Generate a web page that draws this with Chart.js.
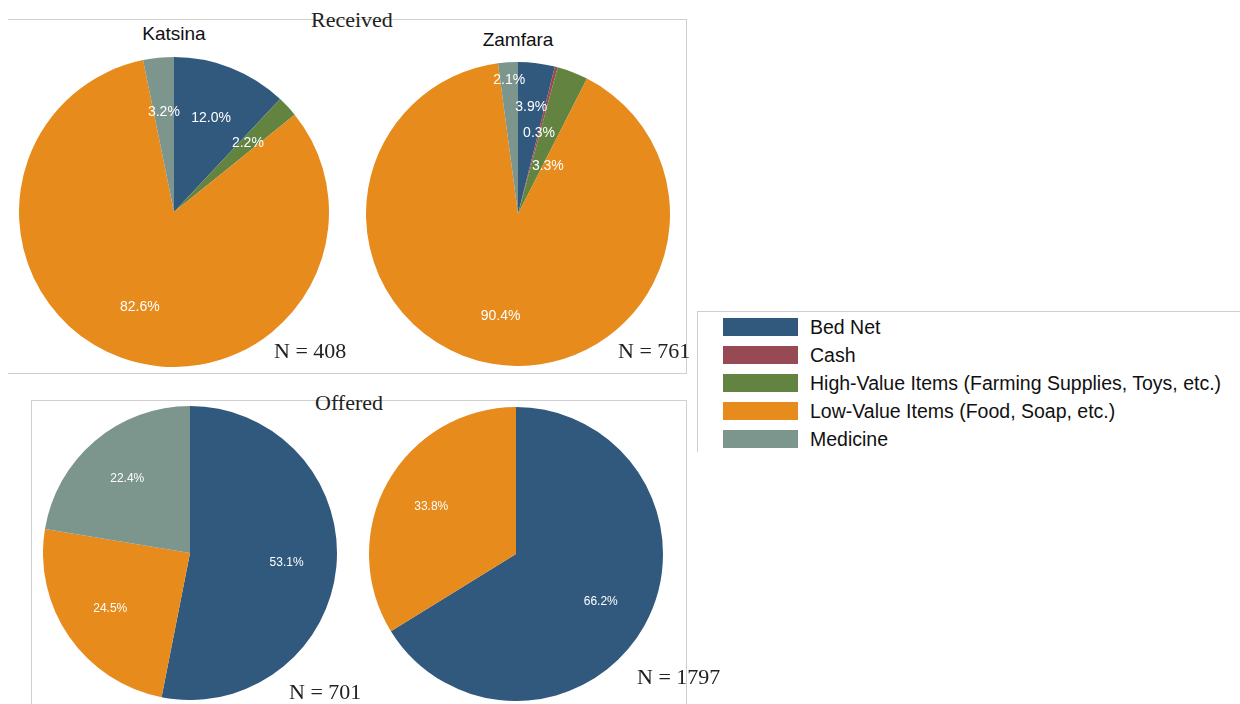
<!DOCTYPE html>
<html>
<head>
<meta charset="utf-8">
<script src="https://cdn.jsdelivr.net/npm/chart.js@4"></script>
<style>
  body { margin: 0; background: #fff; }
  #page { position: relative; width: 1240px; height: 704px; overflow: hidden; }
  .hl { position: absolute; height: 1px; background: #cfcfcf; }
  .vl { position: absolute; width: 1px; background: #cfcfcf; }
  .serif { position: absolute; font-family: "Liberation Serif", "DejaVu Serif", serif; font-size: 22px; color: #222; white-space: nowrap; line-height: 1; }
  .sub { position: absolute; font-family: "Liberation Sans", Arial, sans-serif; font-size: 19px; color: #111; white-space: nowrap; line-height: 1; transform: translateX(-50%); }
  canvas { position: absolute; }
  #legend { position: absolute; left: 723px; top: 313px; font-family: "Liberation Sans", Arial, sans-serif; font-size: 19.5px; color: #111; }
  .row { display: flex; align-items: center; height: 28px; white-space: nowrap; }
  .sw { width: 75px; height: 18px; margin-right: 12px; flex: none; }
</style>
</head>
<body>
<div id="page">
  <!-- frames -->
  <div class="hl" style="left:8px; top:19px; width:679px"></div>
  <div class="vl" style="left:686px; top:19px; height:354px"></div>
  <div class="hl" style="left:8px; top:373px; width:679px"></div>

  <div class="hl" style="left:31px; top:400px; width:656px"></div>
  <div class="vl" style="left:31px; top:400px; height:304px"></div>
  <div class="vl" style="left:686px; top:400px; height:304px"></div>

  <div class="hl" style="left:697px; top:311px; width:543px"></div>
  <div class="vl" style="left:697px; top:311px; height:141px"></div>

  <div class="serif" style="left:311px; top:9px">Received</div>
  <div class="serif" style="left:315px; top:392px">Offered</div>
  <div class="sub" style="left:174px; top:24px">Katsina</div>
  <div class="sub" style="left:518px; top:30px">Zamfara</div>

  <canvas id="recK" width="310" height="310" style="left:19px; top:57px"></canvas>
  <canvas id="recZ" width="304" height="304" style="left:366px; top:62px"></canvas>
  <canvas id="offK" width="294" height="294" style="left:43px; top:406px"></canvas>
  <canvas id="offZ" width="294" height="294" style="left:369px; top:407px"></canvas>

  <div class="serif" style="left:274px; top:340px">N = 408</div>
  <div class="serif" style="left:618px; top:340px">N = 761</div>
  <div class="serif" style="left:289px; top:681px">N = 701</div>
  <div class="serif" style="left:637px; top:666px">N = 1797</div>

  <div id="legend"></div>
</div>

<script>
// Gift categories and their shares (%)
const categories = ['Bed Net', 'Cash', 'High-Value Items (Farming Supplies, Toys, etc.)', 'Low-Value Items (Food, Soap, etc.)', 'Medicine'];
const colors = ['#31587D', '#984A54', '#638440', '#E68B1C', '#7C968E'];

const receivedKatsina = [12.0, 0, 2.2, 82.6, 3.2];
const receivedZamfara = [3.9, 0.3, 3.3, 90.4, 2.1];
const offeredKatsina = [53.1, 0, 0, 24.5, 22.4];
const offeredZamfara = [66.2, 0, 0, 33.8, 0];

// white percent labels placed along each slice's middle angle
const pctLabels = {
  id: 'pctLabels',
  afterDatasetsDraw(chart, args, opts) {
    const ctx = chart.ctx;
    const meta = chart.getDatasetMeta(0);
    const data = chart.data.datasets[0].data;
    ctx.save();
    ctx.fillStyle = '#fff';
    ctx.font = opts.size + 'px "Liberation Sans", Arial, sans-serif';
    ctx.textAlign = 'center';
    ctx.textBaseline = 'middle';
    meta.data.forEach((arc, i) => {
      if (!data[i]) return;
      const r = arc.outerRadius * (opts.radius[i] != null ? opts.radius[i] : opts.radius);
      const shift = (opts.shift && opts.shift[i]) || 0;
      const a = (arc.startAngle + arc.endAngle) / 2 + shift * Math.PI / 180;
      ctx.fillText(data[i].toFixed(1) + '%', arc.x + Math.cos(a) * r, arc.y + Math.sin(a) * r);
    });
    ctx.restore();
  }
};

function pie(id, values, labelOpts) {
  return new Chart(document.getElementById(id), {
    type: 'pie',
    data: {
      labels: categories,
      datasets: [{
        data: values,
        backgroundColor: colors,
        borderWidth: 0,
        hoverOffset: 0
      }]
    },
    options: {
      responsive: false,
      animation: false,
      layout: { padding: 0 },
      events: [],
      plugins: {
        legend: { display: false },
        tooltip: { enabled: false },
        pctLabels: labelOpts
      }
    },
    plugins: [pctLabels]
  });
}

pie('recK', receivedKatsina, { size: 14, radius: 0.65 });
pie('recZ', receivedZamfara, { size: 14, radius: [0.71, 0.55, 0.37, 0.68, 0.88], shift: [0, 0, 11, 0, 0] });
pie('offK', offeredKatsina, { size: 12, radius: 0.66 });
pie('offZ', offeredZamfara, { size: 12, radius: 0.66 });

// shared legend
const legend = document.getElementById('legend');
categories.forEach((c, i) => {
  const row = document.createElement('div');
  row.className = 'row';
  row.innerHTML = '<div class="sw" style="background:' + colors[i] + '"></div><span>' + c + '</span>';
  legend.appendChild(row);
});
</script>
</body>
</html>
